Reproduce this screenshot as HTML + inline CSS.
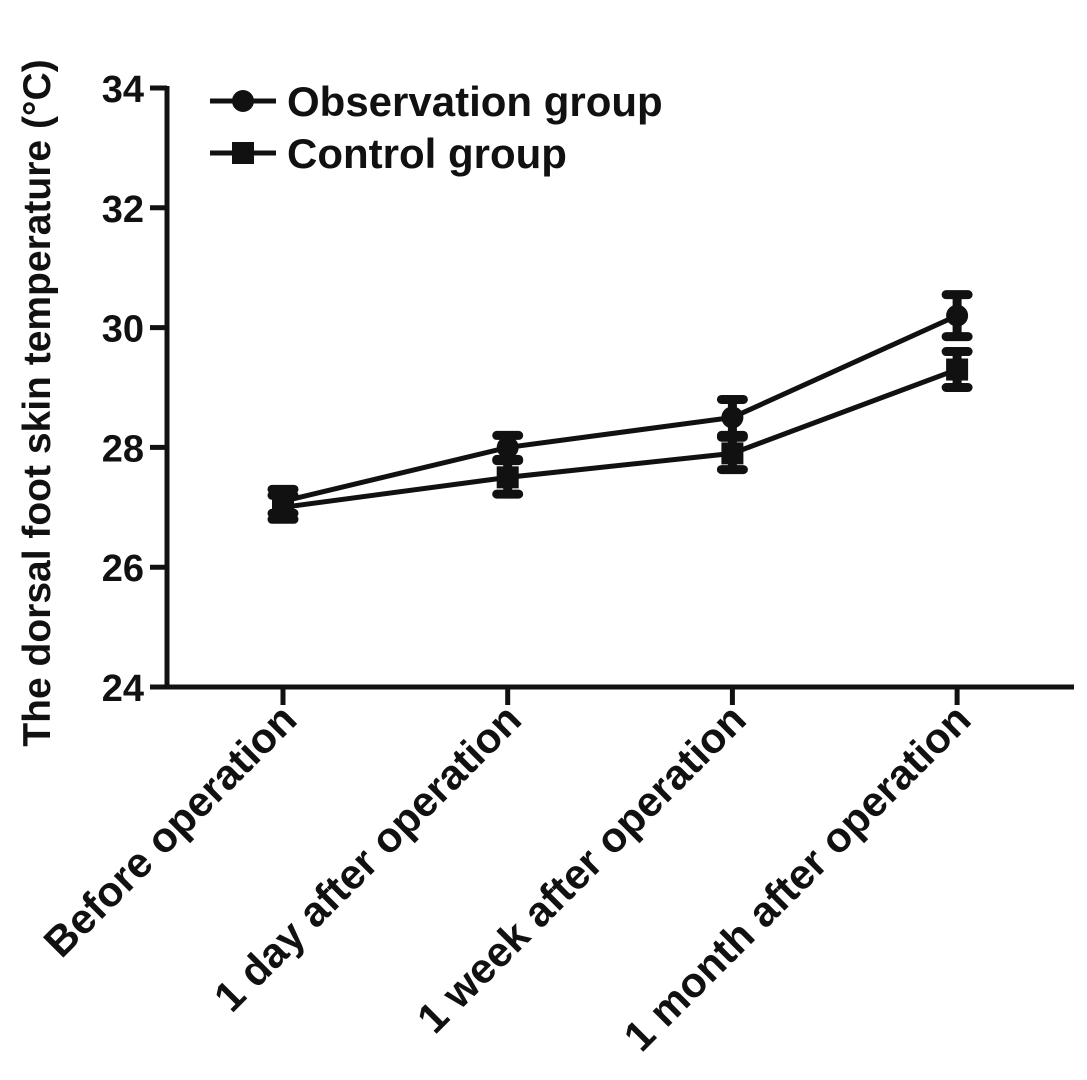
<!DOCTYPE html>
<html><head><meta charset="utf-8"><style>
body{margin:0;background:#fff}
text{font-family:"Liberation Sans",sans-serif;font-weight:bold;fill:#111}
</style></head><body>
<svg id="chart" width="1087" height="1075" xmlns="http://www.w3.org/2000/svg"></svg>
<script>
const categories=["Before operation","1 day after operation","1 week after operation","1 month after operation"];
const obsValues=[27.1,28.0,28.5,30.2];
const obsErr=[0.2,0.2,0.3,0.35];
const ctrlValues=[27.0,27.5,27.9,29.3];
const ctrlErr=[0.2,0.28,0.27,0.3];
const yTicks=[24,26,28,30,32,34];
const svg=document.getElementById('chart');
const NS="http://www.w3.org/2000/svg";
function y(v){return 687-(v-24)*59.9;}
function x(i){return 283+i*224.7;}
function mk(tag,attrs,parent){const e=document.createElementNS(NS,tag);for(const k in attrs)e.setAttribute(k,attrs[k]);(parent||svg).appendChild(e);return e;}
let e;
e=mk('line',{x1:167,y1:86,x2:167,y2:689,stroke:'#111','stroke-width':5});


e=mk('line',{x1:165,y1:687,x2:1074,y2:687,stroke:'#111','stroke-width':5});


yTicks.forEach(t=>{
  e=mk('line',{x1:150,y1:y(t),x2:167,y2:y(t),stroke:'#111','stroke-width':5});
  
  
  e=mk('text',{x:144,y:y(t)+14,'text-anchor':'end','font-size':38});
  e.textContent=t;
  
  
});
categories.forEach((c,i)=>{
  e=mk('line',{x1:x(i),y1:687,x2:x(i),y2:705,stroke:'#111','stroke-width':5});
  
  
  e=mk('text',{x:0,y:0,'text-anchor':'end','font-size':42,transform:`translate(${x(i)+16},${722}) rotate(-45)`});
  e.textContent=c;
  
  
});
e=mk('text',{x:0,y:0,'text-anchor':'middle','font-size':39,transform:'translate(50,403) rotate(-90)'});
e.textContent='The dorsal foot skin temperature (°C)';


function series(vals,errs,shape,name){
  const g=mk('g',{});
  
  
  const pts=vals.map((v,i)=>x(i)+','+y(v)).join(' ');
  const l=mk('polyline',{points:pts,fill:'none',stroke:'#111','stroke-width':5},g);
  
  
  vals.forEach((v,i)=>{
    const cx=x(i),cy=y(v),d=errs[i]*59.9;
    const eb=mk('path',{d:`M${cx},${cy-d}V${cy+d}M${cx-11},${cy-d}H${cx+11}M${cx-11},${cy+d}H${cx+11}`,stroke:'#111','stroke-width':9,'stroke-linecap':'round',fill:'none'},g);
    
    
    let m;
    if(shape==='circle')m=mk('circle',{cx:cx,cy:cy,r:11,fill:'#111'},g);
    else m=mk('rect',{x:cx-11,y:cy-11,width:22,height:22,fill:'#111'},g);
    
    
  });
}
series(obsValues,obsErr,'circle','observation');
series(ctrlValues,ctrlErr,'square','control');
const lg=mk('g',{});


e=mk('line',{x1:210,y1:101,x2:276,y2:101,stroke:'#111','stroke-width':5},lg);


e=mk('circle',{cx:243,cy:101,r:11,fill:'#111'},lg);


e=mk('text',{x:287,y:116,'font-size':42},lg);
e.textContent='Observation group';


e=mk('line',{x1:210,y1:153,x2:276,y2:153,stroke:'#111','stroke-width':5},lg);


e=mk('rect',{x:232,y:142,width:22,height:22,fill:'#111'},lg);


e=mk('text',{x:287,y:168,'font-size':42},lg);
e.textContent='Control group';


</script>
</body></html>
